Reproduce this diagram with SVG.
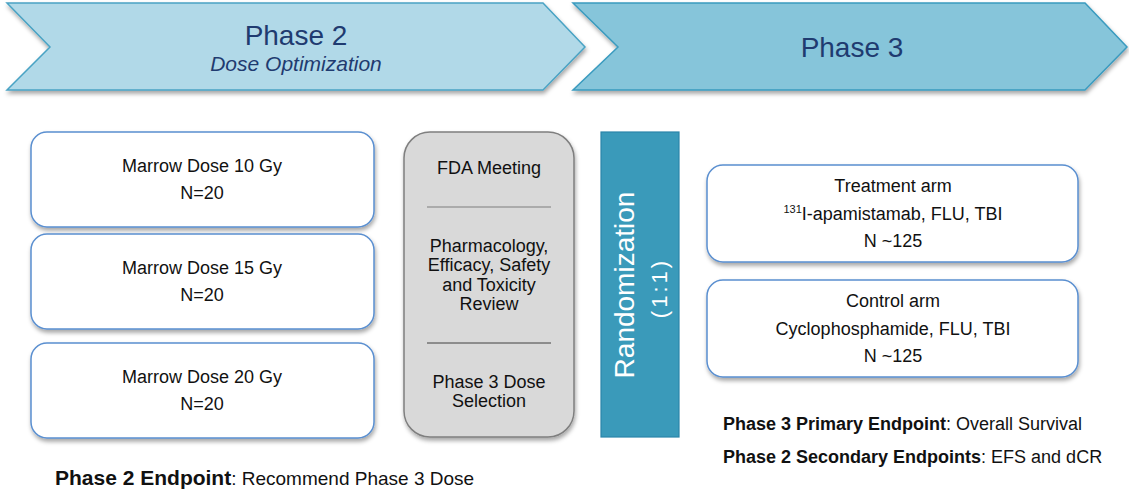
<svg xmlns="http://www.w3.org/2000/svg" width="1129" height="492" viewBox="0 0 1129 492">
<style>
text{font-family:"Liberation Sans",Arial,sans-serif;fill:#111}
.hd{fill:#1f3b70;font-size:28px;text-anchor:middle}
.box{fill:#fff;stroke:#5a8fd0;stroke-width:1.5}
.t{font-size:18px;text-anchor:middle}
.s{font-size:18px}
.b{font-weight:bold}
</style>
<defs>
<filter id="sh" x="-10%" y="-10%" width="120%" height="130%">
<feDropShadow dx="1" dy="3" stdDeviation="2" flood-color="#000" flood-opacity="0.35"/>
</filter>
</defs>
<g id="phase2">
<polygon points="7,3 543,3 585,47 543,90 7,90 50,47" fill="#b1d9e8" stroke="#4aa3c4" stroke-width="1.5" filter="url(#sh)"/>
<text class="hd" x="296" y="45">Phase 2</text>
<text x="296" y="71" style="font-size:21px;font-style:italic;fill:#1f3b70;text-anchor:middle">Dose Optimization</text>
</g>
<g id="phase3">
<polygon points="573,3 1085,3 1127,47 1085,90 573,90 618,47" fill="#86c5da" stroke="#3a9bbf" stroke-width="1.5" filter="url(#sh)"/>
<text class="hd" x="852" y="57">Phase 3</text>
</g>
<g id="dose10">
<rect class="box" x="31" y="132" width="343" height="95" rx="16" filter="url(#sh)"/>
<text class="t" x="202" y="172">Marrow Dose 10 Gy</text>
<text class="t" x="202" y="199">N=20</text>
</g>
<g id="dose15">
<rect class="box" x="31" y="234" width="343" height="95" rx="16" filter="url(#sh)"/>
<text class="t" x="202" y="274">Marrow Dose 15 Gy</text>
<text class="t" x="202" y="301">N=20</text>
</g>
<g id="dose20">
<rect class="box" x="31" y="343" width="343" height="95" rx="16" filter="url(#sh)"/>
<text class="t" x="202" y="383">Marrow Dose 20 Gy</text>
<text class="t" x="202" y="410">N=20</text>
</g>
<g id="review">
<rect x="404" y="132" width="170" height="305" rx="26" fill="#d9d9d9" stroke="#7f7f7f" stroke-width="1.5" filter="url(#sh)"/>
<line x1="427" y1="207" x2="551" y2="207" stroke="#7f7f7f" stroke-width="1.2"/>
<line x1="427" y1="343" x2="551" y2="343" stroke="#404040" stroke-width="1"/>
<text class="t" x="489" y="174">FDA Meeting</text>
<text class="t" x="489" y="252">Pharmacology,</text>
<text class="t" x="489" y="271">Efficacy, Safety</text>
<text class="t" x="489" y="291">and Toxicity</text>
<text class="t" x="489" y="310">Review</text>
<text class="t" x="489" y="388">Phase 3 Dose</text>
<text class="t" x="489" y="407">Selection</text>
</g>
<g id="randomization">
<rect x="601" y="132" width="78" height="305" fill="#3a9aba" stroke="#2a85aa" stroke-width="1.2"/>
<text transform="translate(634,285) rotate(-90)" style="font-size:28px;fill:#fff;text-anchor:middle">Randomization</text>
<text transform="translate(667,288) rotate(-90)" style="font-size:22px;fill:#fff;text-anchor:middle;letter-spacing:3px">(1:1)</text>
</g>
<g id="treatment">
<rect class="box" x="707" y="165" width="371" height="97" rx="16" filter="url(#sh)"/>
<text class="t" x="893" y="192">Treatment arm</text>
<text class="t" x="893" y="220"><tspan style="font-size:11px" dy="-7">131</tspan><tspan dy="7">I-apamistamab, FLU, TBI</tspan></text>
<text class="t" x="893" y="247">N ~125</text>
</g>
<g id="control">
<rect class="box" x="707" y="280" width="371" height="97" rx="16" filter="url(#sh)"/>
<text class="t" x="893" y="307">Control arm</text>
<text class="t" x="893" y="335">Cyclophosphamide, FLU, TBI</text>
<text class="t" x="893" y="362">N ~125</text>
</g>
<g id="connectors"></g>
<g id="notes">
<text class="s" x="723" y="430"><tspan class="b">Phase 3 Primary Endpoint</tspan>: Overall Survival</text>
<text class="s" x="723" y="463"><tspan class="b">Phase 2 Secondary Endpoints</tspan>: EFS and dCR</text>
<text x="55" y="485" style="font-size:19px"><tspan class="b" style="font-size:21px">Phase 2 Endpoint</tspan>: Recommend Phase 3 Dose</text>
</g>
</svg>
